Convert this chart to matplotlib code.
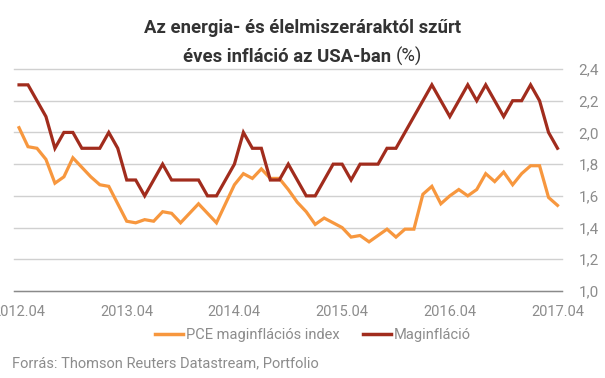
import matplotlib.pyplot as plt
from matplotlib.lines import Line2D
import numpy as np
import pandas as pd

# havi adatok 2012.04 - 2017.04
honapok = pd.period_range('2012-04', '2017-04', freq='M')

# PCE maginflációs index
pce = [2.03, 1.91, 1.90, 1.83, 1.68, 1.72, 1.84, 1.78, 1.72, 1.67, 1.66, 1.55,
       1.44, 1.43, 1.45, 1.44, 1.50, 1.49, 1.43, 1.49, 1.55, 1.49, 1.43, 1.55,
       1.67, 1.74, 1.71, 1.77, 1.71, 1.71, 1.64, 1.56, 1.50, 1.42, 1.46, 1.43,
       1.40, 1.34, 1.35, 1.31, 1.35, 1.39, 1.34, 1.39, 1.39, 1.61, 1.66, 1.55,
       1.60, 1.64, 1.60, 1.64, 1.74, 1.69, 1.75, 1.67, 1.74, 1.79, 1.79, 1.59,
       1.54]

# Maginfláció
mag = [2.3, 2.3, 2.2, 2.1, 1.9, 2.0, 2.0, 1.9, 1.9, 1.9, 2.0, 1.9,
       1.7, 1.7, 1.6, 1.7, 1.8, 1.7, 1.7, 1.7, 1.7, 1.6, 1.6, 1.7,
       1.8, 2.0, 1.9, 1.9, 1.7, 1.7, 1.8, 1.7, 1.6, 1.6, 1.7, 1.8,
       1.8, 1.7, 1.8, 1.8, 1.8, 1.9, 1.9, 2.0, 2.1, 2.2, 2.3, 2.2,
       2.1, 2.2, 2.3, 2.2, 2.3, 2.2, 2.1, 2.2, 2.2, 2.3, 2.2, 2.0,
       1.9]

yticks = [1.0, 1.2, 1.4, 1.6, 1.8, 2.0, 2.2, 2.4]

narancs = '#f7973e'
piros = '#a12c1d'
szurke = '#8c8c8c'
sotet = '#333333'

plt.rcParams['font.family'] = ['Roboto', 'DejaVu Sans']

fig = plt.figure(figsize=(6.05, 3.78), dpi=100)
ax = fig.add_axes([14/605, 1-291/378, (562-14)/605, (291-69)/378])

x = np.arange(len(honapok))
ax.plot(x, pce, color=narancs, lw=2.3, solid_joinstyle='miter')
ax.plot(x, mag, color=piros, lw=2.3, solid_joinstyle='miter')

ax.set_xlim(-0.56, 60.5)
ax.set_ylim(1.0, 2.4)

xt = x[::12]
ax.set_xticks(xt)
ax.set_xticklabels([p.strftime('%Y.%m') for p in honapok[::12]])
ax.set_yticks(yticks)
ax.set_yticklabels([f'{v:.1f}'.replace('.', ',') for v in yticks])
ax.yaxis.tick_right()
ax.tick_params(axis='both', length=0, colors=szurke, labelsize=10.5)
ax.tick_params(axis='y', pad=12, labelsize=11)
ax.tick_params(axis='x', pad=10)
for lbl in ax.get_yticklabels():
    lbl.set_horizontalalignment('left')

ax.grid(axis='y', color='#d0d0d0', lw=1)
ax.grid(axis='x', visible=False)
for s in ['top', 'left', 'right']:
    ax.spines[s].set_visible(False)
ax.spines['bottom'].set_color('#8a8a8a')
ax.spines['bottom'].set_linewidth(1)
for gl in ax.yaxis.get_gridlines():
    gl.set_clip_on(False)

# cím: félkövér + normál "(%)"
fig.text(303/605, 1-33/378, 'Az energia- és élelmiszeráraktól szűrt',
         ha='center', va='baseline', fontsize=13.3, fontweight='bold', color=sotet)
r = fig.canvas.get_renderer()
t1 = fig.text(0, 1-62/378, 'éves infláció az USA-ban ', ha='left', va='baseline',
              fontsize=13.3, fontweight='bold', color=sotet)
t2 = fig.text(0, 1-62/378, '(%)', ha='left', va='baseline',
              fontsize=13.3, color=sotet)
w1 = t1.get_window_extent(r).width
w2 = t2.get_window_extent(r).width
x0 = 303 - (w1 + w2) / 2
t1.set_x(x0/605)
t2.set_x((x0 + w1)/605)

kezelok = [Line2D([], [], color=narancs, lw=2.5), Line2D([], [], color=piros, lw=2.5)]
fig.legend(kezelok, ['PCE maginflációs index', 'Maginfláció'], loc='center',
           bbox_to_anchor=(313/605, 1-335/378), ncol=2, frameon=False,
           fontsize=10.5, labelcolor=szurke, handlelength=1.9,
           handletextpad=0.2, columnspacing=1.6)

fig.text(12/605, 1-363/378, 'Forrás: Thomson Reuters Datastream, Portfolio',
         ha='left', va='center', fontsize=10.5, color=szurke)

fig.savefig('out.png', dpi=100)
